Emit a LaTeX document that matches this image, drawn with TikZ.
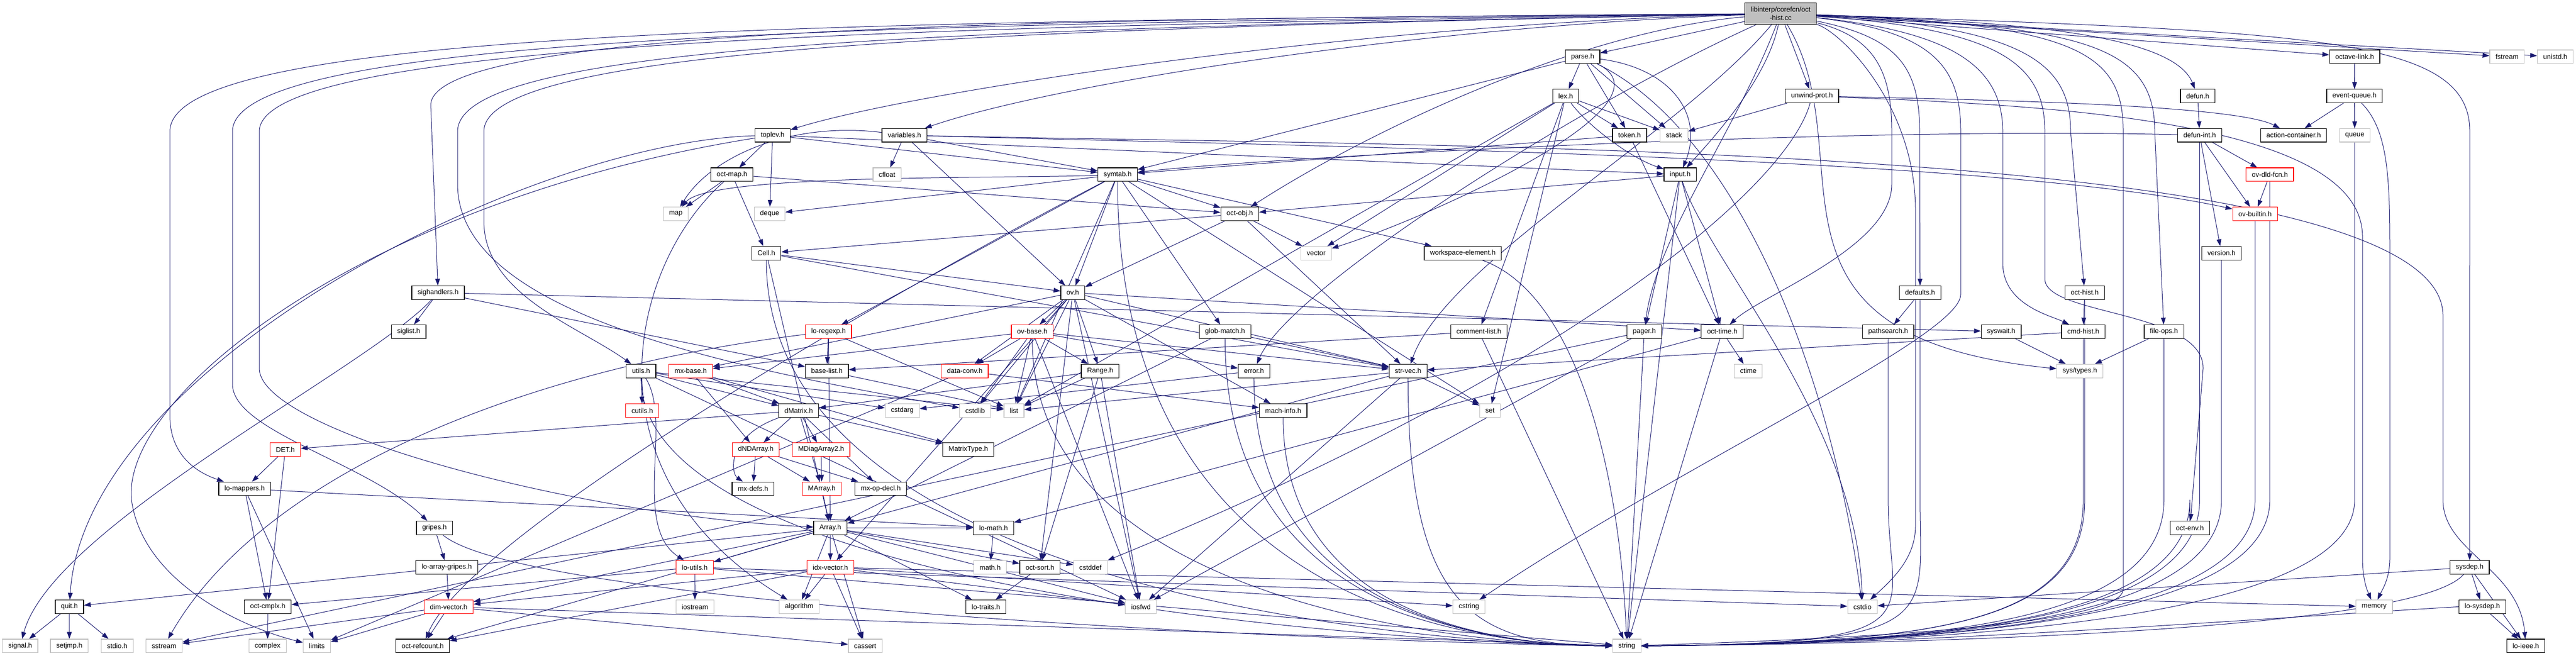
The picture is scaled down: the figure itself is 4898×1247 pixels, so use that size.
\documentclass[tikz,border=0pt]{standalone}
\usepackage{fontspec}
\setmainfont{Liberation Sans}
\usetikzlibrary{arrows.meta}
\definecolor{edgecol}{HTML}{191970}
\definecolor{sysgray}{HTML}{BFBFBF}
\definecolor{rootfill}{HTML}{BFBFBF}
\pgfdeclarelayer{back}
\pgfdeclarelayer{bg}
\pgfsetlayers{back,bg,main}
\tikzset{
  nb/.style={draw=black, line width=0.6pt, fill=white, inner xsep=5.5pt, inner ysep=0pt,
    minimum height=12.85pt, font=\fontsize{6.55pt}{7.6pt}\selectfont, text=black},
  nr/.style={nb, draw=red},
  ng/.style={nb, draw=sysgray},
  edg/.style={draw=edgecol, line width=0.5pt, -{Triangle[length=6.5pt,width=4.5pt]}},
}
\newcommand\tostr[1]{\draw[edg] (#1.south) -- (#1.south |- 0,950) .. controls (#1.south |- 0,1180) and (3700,1222) .. (string.east);}
\newcommand\tostrL[1]{\draw[edg] (#1) .. controls (#1.south |- 0,1150) and (2800,1226) .. (string.west);}
\begin{document}
\begin{tikzpicture}[x=0.5pt,y=-0.5pt]
\useasboundingbox (0,0) rectangle (4898,1247);
\begin{pgfonlayer}{back}
\fill[white] (0,0) rectangle (4898,1247);
\end{pgfonlayer}
% root
\node[nb, align=center, fill=rootfill, minimum width=68pt, minimum height=20.3pt] (root) at (3385.7,25.9) {libinterp/corefcn/oct\\-hist.cc};
% row 1
\node[nb] (parse) at (3009.2,107.9) {parse.h};
\node[nb] (octlink) at (4477.1,107.9) {octave-link.h};
\node[ng] (fstream) at (4766.8,107.9) {fstream};
\node[ng] (unistd) at (4858.5,107.9) {unistd.h};
% row 2
\node[nb] (lex) at (2977,182.6) {lex.h};
\node[nb] (unwind) at (3445.3,182.6) {unwind-prot.h};
\node[nb] (defun) at (4178.7,182.6) {defun.h};
\node[nb] (eventq) at (4476.8,182.6) {event-queue.h};
% row 3
\node[nb] (toplev) at (1469,257.1) {toplev.h};
\node[nb] (variables) at (1719.7,257.1) {variables.h};
\node[nb] (token) at (3098.4,257.1) {token.h};
\node[ng] (stack) at (3182.9,257.1) {stack};
\node[nb] (defunint) at (4182.4,257.1) {defun-int.h};
\node[nb] (actcont) at (4361.1,257.1) {action-container.h};
\node[ng] (queue) at (4477.3,257.1) {queue};
% row 4
\node[nb] (octmap) at (1391.7,331.9) {oct-map.h};
\node[ng] (cfloat) at (1686.6,331.9) {cfloat};
\node[nb] (symtab) at (2125,331.9) {symtab.h};
\node[nb] (input) at (3194.6,331.9) {input.h};
\node[nr] (ovdld) at (4315.8,331.9) {ov-dld-fcn.h};
% row 5
\node[ng] (map) at (1285,406.6) {map};
\node[ng] (deque) at (1463.4,406.6) {deque};
\node[nb] (octobj) at (2357.3,406.6) {oct-obj.h};
\node[nr] (ovbuiltin) at (4287.8,406.6) {ov-builtin.h};
% row 6
\node[nb] (cell) at (1457.1,481.3) {Cell.h};
\node[ng] (vector) at (2502.5,481.3) {vector};
\node[nb] (wselem) at (2781.3,481.3) {workspace-element.h};
\node[nb] (version) at (4223.9,481.3) {version.h};
% row 7
\node[nb] (sighandlers) at (833,556.3) {sighandlers.h};
\node[nb] (ov) at (2039.8,556.3) {ov.h};
\node[nb] (defaults) at (3650.8,556.3) {defaults.h};
\node[nb] (octhist) at (3963.8,556.3) {oct-hist.h};
% row 8
\node[nb] (siglist) at (777.1,630.3) {siglist.h};
\node[nr] (loregexp) at (1575.3,630.3) {lo-regexp.h};
\node[nr] (ovbase) at (1962.7,630.3) {ov-base.h};
\node[nb] (globmatch) at (2329.3,630.3) {glob-match.h};
\node[nb] (commentlist) at (2811.8,630.3) {comment-list.h};
\node[nb] (pager) at (3126.4,630.3) {pager.h};
\node[nb] (octtime) at (3274.5,630.3) {oct-time.h};
\node[nb] (pathsearch) at (3590.1,630.3) {pathsearch.h};
\node[nb] (syswait) at (3805,630.3) {syswait.h};
\node[nb] (cmdhist) at (3961.1,630.3) {cmd-hist.h};
\node[nb] (fileops) at (4114.5,630.3) {file-ops.h};
% row 9
\node[nb] (utils) at (1218.9,705.3) {utils.h};
\node[nr] (mxbase) at (1313.2,705.3) {mx-base.h};
\node[nb] (baselist) at (1572.2,705.3) {base-list.h};
\node[nr] (dataconv) at (1834.3,705.3) {data-conv.h};
\node[nb] (range) at (2091.8,705.3) {Range.h};
\node[nb] (error) at (2384.2,705.3) {error.h};
\node[nb] (strvec) at (2677.2,705.3) {str-vec.h};
\node[ng] (ctime) at (3324.2,705.3) {ctime};
\node[ng] (systypes) at (3954.6,705.3) {sys/types.h};
% row 10
\node[nr] (cutils) at (1221.2,780.6) {cutils.h};
\node[nb] (dmatrix) at (1518.6,780.6) {dMatrix.h};
\node[ng] (cstdarg) at (1715.6,780.6) {cstdarg};
\node[ng] (cstdlib) at (1854.1,780.6) {cstdlib};
\node[ng] (list) at (1927.9,780.6) {list};
\node[nb] (machinfo) at (2439.8,780.6) {mach-info.h};
\node[ng] (set) at (2833,780.6) {set};
% row 11
\node[nr] (det) at (542.5,854.6) {DET.h};
\node[nr] (dndarray) at (1437,854.6) {dNDArray.h};
\node[nr] (mdiag) at (1561.2,854.6) {MDiagArray2.h};
\node[nb] (matrixtype) at (1841.1,854.6) {MatrixType.h};
% row 12
\node[nb] (lomappers) at (465.2,929) {lo-mappers.h};
\node[nb] (mxdefs) at (1431.8,929) {mx-defs.h};
\node[nr] (marray) at (1562.5,929) {MArray.h};
\node[nb] (mxopdecl) at (1674.7,929) {mx-op-decl.h};
% row 13
\node[nb] (gripes) at (826.2,1003.5) {gripes.h};
\node[nb] (array) at (1578.7,1003.5) {Array.h};
\node[nb] (lomath) at (1889.1,1003.5) {lo-math.h};
\node[nb] (octenv) at (4163.8,1003.5) {oct-env.h};
% row 14
\node[nb] (loarraygripes) at (849.5,1078.4) {lo-array-gripes.h};
\node[nr] (loutils) at (1321.1,1078.4) {lo-utils.h};
\node[nr] (idxvector) at (1578.9,1078.4) {idx-vector.h};
\node[ng] (mathh) at (1882.6,1078.4) {math.h};
\node[nb] (octsort) at (1977.3,1078.4) {oct-sort.h};
\node[ng] (cstddef) at (2073.3,1078.4) {cstddef};
\node[nb] (sysdep) at (4695.8,1078.4) {sysdep.h};
% row 15
\node[nb] (quit) at (132,1153.4) {quit.h};
\node[nb] (octcmplx) at (509.1,1153.4) {oct-cmplx.h};
\node[nr] (dimvector) at (853.1,1153.4) {dim-vector.h};
\node[ng] (iostream) at (1321.4,1153.4) {iostream};
\node[ng] (algorithm) at (1519.6,1153.4) {algorithm};
\node[nb] (lotraits) at (1874.6,1153.4) {lo-traits.h};
\node[ng] (iosfwd) at (2169.3,1153.4) {iosfwd};
\node[ng] (cstring) at (2793,1153.4) {cstring};
\node[ng] (cstdio) at (3541.2,1153.4) {cstdio};
\node[ng] (memory) at (4514.3,1153.4) {memory};
\node[nb] (losysdep) at (4719.9,1153.4) {lo-sysdep.h};
% row 16
\node[ng] (signal) at (38.4,1227.9) {signal.h};
\node[ng] (setjmp) at (131.8,1227.9) {setjmp.h};
\node[ng] (stdio) at (222.8,1227.9) {stdio.h};
\node[ng] (sstream) at (311.9,1227.9) {sstream};
\node[ng] (complex) at (508.8,1227.9) {complex};
\node[ng] (limits) at (602.4,1227.9) {limits};
\node[nb] (octrefcount) at (803.7,1227.9) {oct-refcount.h};
\node[ng] (cassert) at (1645,1227.9) {cassert};
\node[ng] (string) at (3093.2,1227.9) {string};
\node[nb] (loieee) at (4802.6,1227.9) {lo-ieee.h};

\begin{pgfonlayer}{bg}
% ---- root
\draw[edg] (root) -- (parse);
\draw[edg] (root) -- (unwind);
\draw[edg] (root) .. controls (3360,150) and (3260,260) .. (input);
\draw[edg] (root) -- (octlink);
\draw[edg] (root) -- (fstream);
\draw[edg] (root) -- (unistd);
\draw[edg] (root) .. controls (3800,40) and (4130,60) .. (defun);
\draw[edg] (root) .. controls (3600,70) and (3650,120) .. (3650,250) -- (defaults);
\draw[edg] (root) .. controls (3850,50) and (3937,120) .. (3937,250) -- (octhist);
\draw[edg] (root) .. controls (3700,60) and (3808,120) .. (3808,250) -- (3808,500) .. controls (3808,580) and (3900,600) .. (cmdhist);
\draw[edg] (root) .. controls (3950,50) and (4097,80) .. (4097,250) -- (fileops);
\draw[edg] (root) .. controls (3800,55) and (3888,120) .. (3888,250) -- (3888,530) .. controls (3888,600) and (4189,590) .. (4189,700) -- (octenv);
\draw[edg] (root) .. controls (4400,60) and (4696,70) .. (4696,250) -- (sysdep);
\draw[edg] (root) .. controls (3560,70) and (3597,130) .. (3597,250) -- (3597,350) .. controls (3597,470) and (3350,560) .. (octtime);
\draw[edg] (root) .. controls (3680,60) and (3728,130) .. (3728,250) -- (3728,560) .. controls (3728,640) and (3200,880) .. (cstring);
\draw[edg] (root) .. controls (3950,45) and (4037,100) .. (4037,250) -- (4037,1120) .. controls (4037,1190) and (3500,1215) .. (string);
\draw[edg] (root) .. controls (3500,60) and (3642,200) .. (3642,400) -- (3642,1000) .. controls (3642,1060) and (3600,1100) .. (cstdio);
\draw[edg] (root) .. controls (2600,45) and (1750,170) .. (toplev);
\draw[edg] (root) .. controls (2700,50) and (2000,160) .. (variables);
\draw[edg] (root) .. controls (3000,60) and (2600,250) .. (octobj);
\draw[edg] (root) .. controls (2000,35) and (819,50) .. (819,200) -- (sighandlers);
\draw[edg] (root) .. controls (1500,40) and (323,60) .. (323,250) -- (323,790) .. controls (323,870) and (380,900) .. (lomappers);
\draw[edg] (root) .. controls (1600,45) and (442,70) .. (442,250) -- (442,730) .. controls (442,820) and (700,880) .. (gripes);
\draw[edg] (root) .. controls (1700,50) and (493,80) .. (493,250) -- (493,700) .. controls (493,820) and (1100,980) .. (array);
\draw[edg] (root) .. controls (1900,55) and (920,90) .. (920,250) -- (920,420) .. controls (920,560) and (1100,620) .. (utils);
\draw[edg] (root) .. controls (1850,55) and (870,80) .. (870,250) -- (870,350) .. controls (870,600) and (1400,700) .. (cstdlib);
\draw[edg] (root) .. controls (3000,200) and (2450,550) .. (error);
\draw[edg] (root) .. controls (3200,250) and (2750,500) .. (strvec);
\draw[edg] (root) .. controls (3300,250) and (3150,450) .. (pager);
\draw[edg] (root) .. controls (3550,300) and (3300,640) .. (systypes);
% ---- parse / lex / token
\draw[edg] (parse) -- (lex);
\draw[edg] (parse) -- (token);
\draw[edg] (parse) -- (stack);
\draw[edg] (parse) -- (symtab);
\draw[edg] (parse) .. controls (3180,130) and (3240,220) .. (input);
\draw[edg] (parse) .. controls (3200,200) and (2700,420) .. (vector);
\draw[edg] (parse) .. controls (3300,250) and (3480,700) .. (cstdio);
\draw[edg] (lex) -- (commentlist);
\draw[edg] (lex) .. controls (3020,240) and (3100,300) .. (input);
\draw[edg] (lex) -- (token);
\draw[edg] (lex) -- (stack);
\draw[edg] (lex) -- (set);
\draw[edg] (lex) -- (vector);
\draw[edg] (lex) -- (list);
\draw[edg] (token) -- (symtab);
\draw[edg] (token) -- (octtime);
% ---- unwind
\draw[edg] (unwind) -- (stack);
\draw[edg] (unwind) .. controls (3800,190) and (4250,200) .. (actcont);
\draw[edg] (unwind) .. controls (3900,200) and (4492,230) .. (4492,450) -- (4492,1060) .. controls (4492,1100) and (4500,1120) .. (memory);
\draw[edg] (unwind) .. controls (3400,350) and (3000,700) .. (cstddef);
% ---- toplev
\draw[edg] (toplev) -- (octmap);
\draw[edg] (toplev) -- (deque);
\draw[edg] (toplev) -- (symtab);
\draw[edg] (toplev) -- (input);
\draw[edg] (toplev) .. controls (1000,270) and (160,700) .. (quit);
\draw[edg] (toplev) .. controls (700,380) and (230,750) .. (250,950) .. controls (270,1100) and (450,1190) .. (limits);
% ---- variables
\draw[edg] (variables) -- (cfloat);
\draw[edg] (variables) -- (symtab);
\draw[edg] (variables) -- (ov);
\draw[edg] (variables) .. controls (2600,280) and (3800,300) .. (ovbuiltin);
\draw[edg] (variables) .. controls (1500,230) and (1350,300) .. (map);
\draw[edg] (variables) .. controls (2800,280) and (4645,270) .. (4645,600) -- (4645,950) .. controls (4645,1050) and (4790,1080) .. (loieee);
% ---- oct-map, symtab, oct-obj, Cell
\draw[edg] (octmap) -- (map);
\draw[edg] (octmap) -- (cell);
\draw[edg] (octmap) -- (octobj);
\draw[edg] (octmap) .. controls (1200,500) and (1100,900) .. (algorithm);
\draw[edg] (symtab) .. controls (1900,340) and (1350,330) .. (map);
\draw[edg] (symtab) -- (deque);
\draw[edg] (symtab) -- (list);
\draw[edg] (symtab) -- (set);
\draw[edg] (symtab) -- (globmatch);
\draw[edg] (symtab) -- (loregexp);
\draw[edg] (symtab) -- (octobj);
\draw[edg] (symtab) -- (ov);
\draw[edg] (symtab) -- (wselem);
\draw[edg] (symtab) .. controls (1800,500) and (900,1000) .. (octrefcount);
\draw[edg] (octobj) -- (cell);
\draw[edg] (octobj) -- (vector);
\draw[edg] (octobj) -- (strvec);
\draw[edg] (octobj) -- (ov);
\draw[edg] (cell) -- (array);
\draw[edg] (cell) -- (strvec);
\draw[edg] (cell) -- (ov);
% ---- input
\draw[edg] (input) -- (pager);
\draw[edg] (input) -- (octtime);
\draw[edg] (input) -- (octobj);
\draw[edg] (input) .. controls (3250,500) and (3530,800) .. (cstdio);
\draw[edg] (input) -- (string);
% ---- sighandlers
\draw[edg] (sighandlers) -- (siglist);
\draw[edg] (sighandlers) .. controls (700,700) and (100,1000) .. (signal);
\draw[edg] (sighandlers) -- (baselist);
\draw[edg] (sighandlers) -- (syswait);
% ---- ov
\draw[edg] (ov) -- (ovbase);
\draw[edg] (ov) -- (range);
\draw[edg] (ov) -- (dataconv);
\draw[edg] (ov) -- (machinfo);
\draw[edg] (ov) -- (mxbase);
\draw[edg] (ov) -- (strvec);
\draw[edg] (ov) -- (octtime);
\draw[edg] (ov) -- (octsort);
\draw[edg] (ov) -- (idxvector);
\draw[edg] (ov) -- (cstdlib);
\draw[edg] (ov) -- (iosfwd);
\draw[edg] (ov) -- (list);
% ---- right part
\draw[edg] (defaults) -- (pathsearch);
\draw[edg] (octhist) -- (cmdhist);
\draw[edg] (defun) -- (defunint);
\draw[edg] (defunint) -- (ovbuiltin);
\draw[edg] (defunint) -- (ovdld);
\draw[edg] (defunint) -- (version);
\draw[edg] (defunint) .. controls (3500,240) and (2400,300) .. (symtab);
\draw[edg] (ovdld) -- (ovbuiltin);
\draw[edg] (octlink) -- (eventq);
\draw[edg] (eventq) -- (actcont);
\draw[edg] (eventq) -- (queue);
\draw[edg] (eventq) .. controls (4544,250) and (4544,350) .. (4544,500) -- (4544,1060) .. controls (4544,1100) and (4530,1120) .. (memory);
\tostr{defaults}
\tostr{octhist}
\tostr{defunint}
\tostr{ovdld}
\tostr{ovbuiltin}
\tostr{version}
\tostr{octlink}
\tostr{pathsearch}
\tostr{cmdhist}
\tostr{fileops}
\tostr{octenv}
\draw[edg] (sysdep) .. controls (4600,1190) and (3800,1222) .. (string.east);
\draw[edg] (losysdep.west) .. controls (4300,1175) and (3700,1224) .. (string.east);
\draw[edg] (syswait) -- (systypes);
\draw[edg] (fileops) -- (systypes);
\draw[edg] (cmdhist) -- (strvec);
% ---- row 8
\draw[edg] (loregexp) -- (baselist);
\draw[edg] (loregexp) -- (list);
\draw[edg] (loregexp) .. controls (1000,700) and (500,900) .. (sstream);
\draw[edg] (loregexp) -- (array);
\draw[edg] (ovbase) -- (dataconv);
\draw[edg] (ovbase) -- (range);
\draw[edg] (ovbase) -- (error);
\draw[edg] (ovbase) -- (cstdlib);
\draw[edg] (ovbase) -- (list);
\draw[edg] (ovbase) -- (iosfwd);
\draw[edg] (ovbase) -- (mxbase);
\draw[edg] (ovbase) -- (strvec);
\draw[edg] (globmatch) -- (array);
\draw[edg] (globmatch) -- (strvec);
\draw[edg] (commentlist) -- (baselist);
\draw[edg] (commentlist) -- (string);
\draw[edg] (pager) -- (iosfwd);
\draw[edg] (pager) -- (sstream);
\draw[edg] (pager) -- (string);
\draw[edg] (octtime) -- (ctime);
\draw[edg] (octtime) -- (lomath);
\draw[edg] (octtime) -- (string);
\draw[edg] (wselem) .. controls (3000,560) and (3080,900) .. (string);
% ---- row 9
\draw[edg] (utils) -- (cutils);
\draw[edg] (utils) -- (dmatrix);
\draw[edg] (utils) .. controls (1280,800) and (1200,1000) .. (loutils);
\draw[edg] (utils) -- (cstdarg);
\draw[edg] (utils) -- (list);
\draw[edg] (utils) -- (iosfwd);
\draw[edg] (mxbase) -- (dmatrix);
\draw[edg] (mxbase) -- (dndarray);
\draw[edg] (mxbase) -- (matrixtype);
\draw[edg] (baselist) -- (list);
\draw[edg] (dataconv) -- (machinfo);
\draw[edg] (dataconv) -- (limits);
\draw[edg] (range) -- (dmatrix);
\draw[edg] (range) -- (octsort);
\draw[edg] (range) -- (iosfwd);
\draw[edg] (range) -- (list);
\draw[edg] (error) -- (cstdarg);
\draw[edg] (strvec) -- (set);
\draw[edg] (strvec) -- (list);
\draw[edg] (strvec) -- (iosfwd);
\draw[edg] (strvec) -- (array);
\tostrL{strvec}
\tostrL{error}
\tostrL{machinfo}
\tostrL{utils}
\tostrL{symtab}
\tostrL{ovbase}
\tostrL{globmatch}
\tostrL{cell}
% ---- matrices
\draw[edg] (dmatrix) -- (dndarray);
\draw[edg] (dmatrix) -- (mdiag);
\draw[edg] (dmatrix) .. controls (1380,830) and (1390,900) .. (mxdefs);
\draw[edg] (dmatrix) -- (det);
\draw[edg] (dmatrix) -- (matrixtype);
\draw[edg] (dmatrix) -- (mxopdecl);
\draw[edg] (dmatrix) -- (marray);
\draw[edg] (dndarray) -- (mxdefs);
\draw[edg] (dndarray) -- (marray);
\draw[edg] (dndarray) -- (mxopdecl);
\draw[edg] (mdiag) -- (marray);
\draw[edg] (marray) -- (array);
\draw[edg] (det) -- (lomappers);
\draw[edg] (det) -- (octcmplx);
\draw[edg] (lomappers) -- (octcmplx);
\draw[edg] (lomappers) -- (lomath);
\draw[edg] (lomappers) -- (limits);
\draw[edg] (gripes) -- (loarraygripes);
\draw[edg] (gripes) .. controls (1000,1150) and (2500,1220) .. (string.west);
% ---- Array
\draw[edg] (array) -- (idxvector);
\draw[edg] (array) -- (loutils);
\draw[edg] (array) -- (dimvector);
\draw[edg] (array) -- (algorithm);
\draw[edg] (array) -- (octsort);
\draw[edg] (array) -- (lotraits);
\draw[edg] (array) -- (iosfwd);
\draw[edg] (array) -- (cassert);
\draw[edg] (array) -- (cstddef);
\draw[edg] (array) -- (quit);
\draw[edg] (array) -- (octrefcount);
\draw[edg] (array) -- (lomath);
\draw[edg] (lomath) -- (mathh);
\draw[edg] (loarraygripes) -- (dimvector);
\draw[edg] (loutils) -- (iostream);
\draw[edg] (loutils) -- (octcmplx);
\draw[edg] (loutils) -- (cstdio);
\draw[edg] (loutils) -- (string);
\draw[edg] (idxvector) -- (algorithm);
\draw[edg] (idxvector) -- (dimvector);
\draw[edg] (idxvector) -- (octrefcount);
\draw[edg] (idxvector) -- (cstring);
\draw[edg] (idxvector) -- (memory);
\draw[edg] (idxvector) -- (iosfwd);
\draw[edg] (idxvector) -- (cassert);
\draw[edg] (octsort) -- (lotraits);
\draw[edg] (sysdep) -- (cstdio);
\draw[edg] (sysdep) -- (losysdep);
\draw[edg] (sysdep) -- (loieee);
\draw[edg] (losysdep) -- (loieee);
\draw[edg] (quit) -- (signal);
\draw[edg] (quit) -- (setjmp);
\draw[edg] (quit) -- (stdio);
\draw[edg] (octcmplx) -- (complex);
\draw[edg] (dimvector) -- (octrefcount);
\draw[edg] (dimvector) -- (sstream);
\draw[edg] (dimvector) -- (limits);
\draw[edg] (dimvector) -- (cassert);
\draw[edg] (dimvector) -- (string);
\end{pgfonlayer}
\end{tikzpicture}
\end{document}
